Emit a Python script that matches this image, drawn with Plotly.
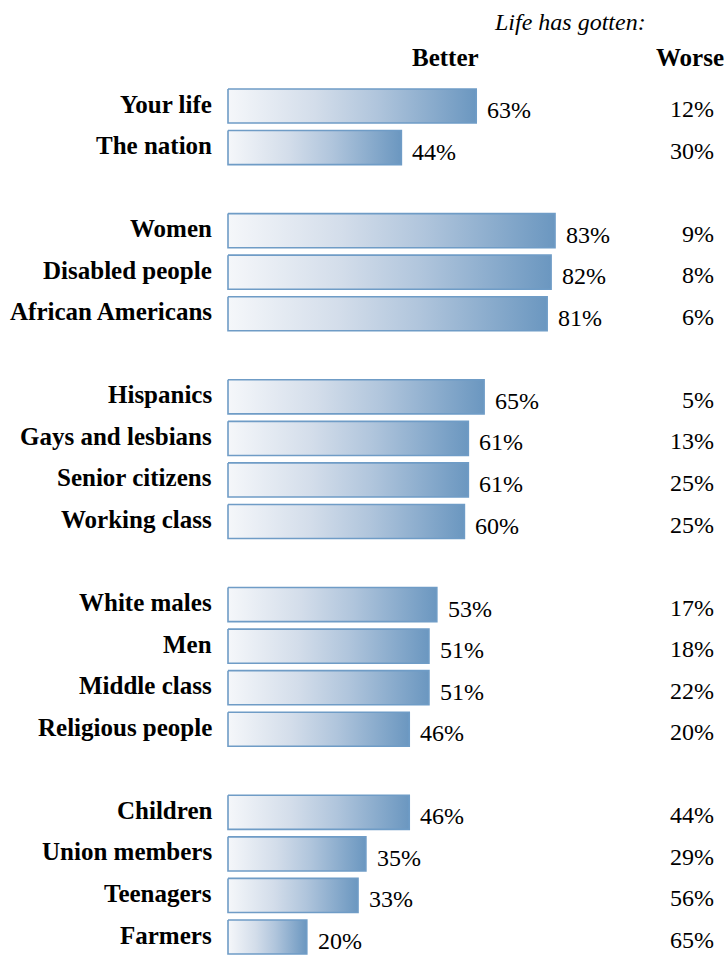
import plotly.graph_objects as go

categories = ["Your life", "The nation", None,
              "Women", "Disabled people", "African Americans", None,
              "Hispanics", "Gays and lesbians", "Senior citizens", "Working class", None,
              "White males", "Men", "Middle class", "Religious people", None,
              "Children", "Union members", "Teenagers", "Farmers"]
better = [63, 44, None, 83, 82, 81, None, 65, 61, 61, 60, None, 53, 51, 51, 46, None, 46, 35, 33, 20]
worse = [12, 30, None, 9, 8, 6, None, 5, 13, 25, 25, None, 17, 18, 22, 20, None, 44, 29, 56, 65]

W, H = 727, 955
px_per = 3.94
x0_px = 228
row0_px = 106
row_h = 41.55
half = 0.41

fig = go.Figure()
for i, (c, b) in enumerate(zip(categories, better)):
    if c is None:
        continue
    fig.add_trace(go.Scatter(
        x=[0, b, b, 0, 0], y=[i - half, i - half, i + half, i + half, i - half],
        mode="lines", fill="toself",
        line=dict(color="#6f9cc6", width=1.6),
        fillgradient=dict(type="horizontal",
                          colorscale=[[0, "#f5f7fa"], [0.35, "#d3ddea"], [0.6, "#b0c5dc"], [1, "#6b97c0"]]),
        hoverinfo="skip", showlegend=False))

FAM = "Liberation Serif"
ann = []
for i, (c, b, w) in enumerate(zip(categories, better, worse)):
    if c is None:
        continue
    ann.append(dict(x=0, y=i, xref="x", yref="y", text="<b>%s</b>" % c, showarrow=False,
                    xanchor="right", yanchor="middle", xshift=-14, yshift=2,
                    font=dict(family=FAM, size=25, color="black")))
    ann.append(dict(x=b, y=i, xref="x", yref="y", text="%d%%" % b, showarrow=False,
                    xanchor="left", yanchor="middle", xshift=9, yshift=-4,
                    font=dict(family=FAM, size=24, color="black")))
    ann.append(dict(x=716 / W, y=i, xref="paper", yref="y", text="%d%%" % w, showarrow=False,
                    xanchor="right", yanchor="middle", yshift=-3,
                    font=dict(family=FAM, size=24, color="black")))

ann.append(dict(x=570 / W, y=1 - 22 / H, xref="paper", yref="paper", text="<i>Life has gotten:</i>",
                showarrow=False, xanchor="center", yanchor="middle",
                font=dict(family=FAM, size=24, color="black")))
ann.append(dict(x=445 / W, y=1 - 57 / H, xref="paper", yref="paper", text="<b>Better</b>",
                showarrow=False, xanchor="center", yanchor="middle",
                font=dict(family=FAM, size=25, color="black")))
ann.append(dict(x=726 / W, y=1 - 57 / H, xref="paper", yref="paper", text="<b>Worse</b>",
                showarrow=False, xanchor="right", yanchor="middle",
                font=dict(family=FAM, size=25, color="black")))

xr0 = -x0_px / px_per
xr1 = (W - x0_px) / px_per
yr_top = -row0_px / row_h
yr_bot = (H - row0_px) / row_h

fig.update_layout(
    width=W, height=H, margin=dict(l=0, r=0, t=0, b=0),
    paper_bgcolor="white", plot_bgcolor="white",
    xaxis=dict(range=[xr0, xr1], visible=False, fixedrange=True),
    yaxis=dict(range=[yr_bot, yr_top], visible=False, fixedrange=True),
    annotations=ann, showlegend=False,
)
fig.write_html("out.html")
